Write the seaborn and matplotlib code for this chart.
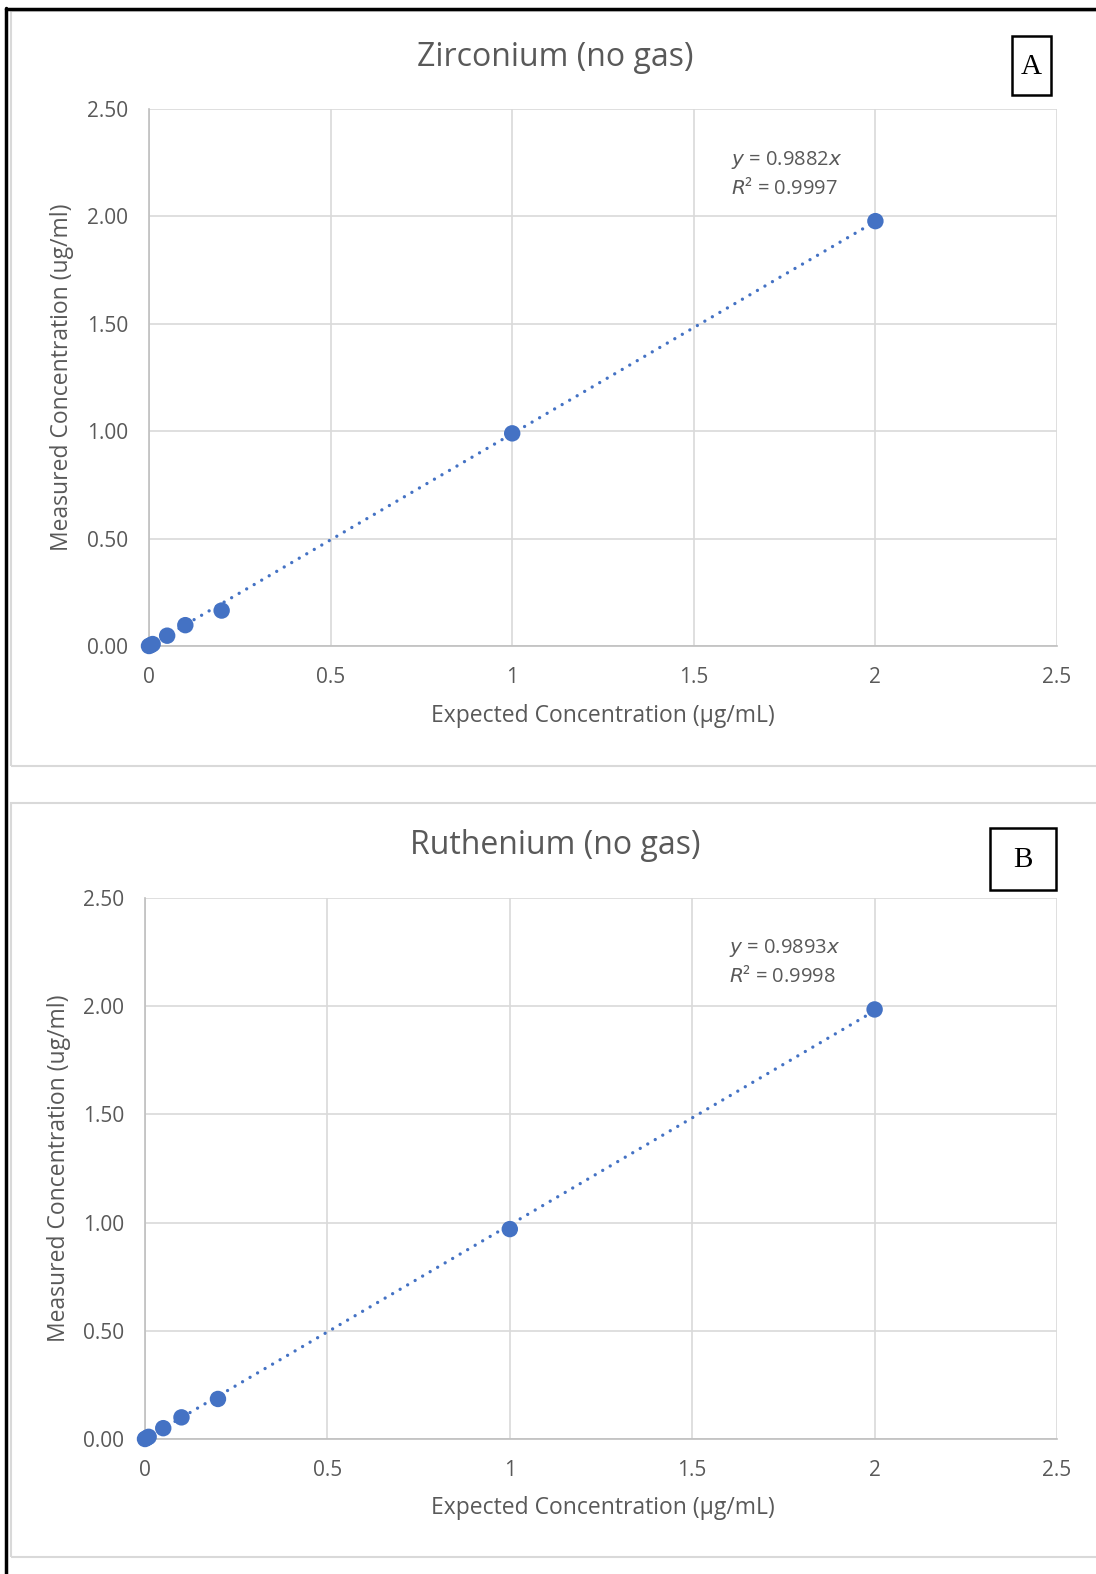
import numpy as np
import pandas as pd
import matplotlib
matplotlib.use("Agg")
import matplotlib.pyplot as plt
import seaborn as sns
from matplotlib.patches import Rectangle
from matplotlib.lines import Line2D

sns.set_theme(style="white")
plt.rcParams['font.family'] = ['Open Sans', 'DejaVu Sans']

# ---- data ----
zr_expected = [0, 0.005, 0.01, 0.05, 0.1, 0.2, 1, 2]
zr_measured = [0, 0.004, 0.009, 0.048, 0.097, 0.165, 0.990, 1.978]
zr_slope = 0.9882
zr_r2 = 0.9997

ru_expected = [0, 0.005, 0.01, 0.05, 0.1, 0.2, 1, 2]
ru_measured = [0, 0.005, 0.010, 0.050, 0.100, 0.185, 0.970, 1.985]
ru_slope = 0.9893
ru_r2 = 0.9998

x_ticks = [0, 0.5, 1, 1.5, 2, 2.5]
x_tick_labels = ["0", "0.5", "1", "1.5", "2", "2.5"]
y_ticks = [0, 0.5, 1.0, 1.5, 2.0, 2.5]
y_tick_labels = ["0.00", "0.50", "1.00", "1.50", "2.00", "2.50"]

W, H = 1096, 1574
fig = plt.figure(figsize=(W / 100, H / 100), dpi=100)

BLUE = "#4472C4"
TXT = "#595959"
GRID = "#D9D9D9"


def fx(px):
    return px / W


def fy(py):
    return 1 - py / H


# outer black border lines (left and top)
fig.add_artist(Line2D([fx(6), fx(6)], [fy(8), fy(H)], color="black", lw=2.5))
fig.add_artist(Line2D([fx(6), fx(W)], [fy(9), fy(9)], color="black", lw=2.5))
# grey chart frames
fig.add_artist(Rectangle((fx(11), fy(766)), fx(W + 5) - fx(11), fy(11) - fy(766),
                         fill=False, ec="#D9D9D9", lw=1.5))
fig.add_artist(Rectangle((fx(11), fy(1557)), fx(W + 5) - fx(11), fy(803) - fy(1557),
                         fill=False, ec="#D9D9D9", lw=1.5))


def make_panel(x0, x1, y_top, y_bot, xs, ys, slope, r2, title, title_y, ann_xy,
               letter, box, xlabel_y, ylabel_x):
    ax = fig.add_axes([fx(x0), fy(y_bot), fx(x1) - fx(x0), fy(y_top) - fy(y_bot)])
    df = pd.DataFrame({"expected": xs, "measured": ys})
    line_x = np.array([0, 2])
    ax.plot(line_x, slope * line_x, color=BLUE, lw=2.4,
            dashes=(0.01, 2.6), dash_capstyle="round", zorder=2)
    sns.scatterplot(data=df, x="expected", y="measured", ax=ax, color=BLUE,
                    s=140, edgecolor="none", zorder=3, clip_on=False)
    ax.set_xlim(0, 2.5)
    ax.set_ylim(0, 2.5)
    ax.set_xticks(x_ticks)
    ax.set_xticklabels(x_tick_labels)
    ax.set_yticks(y_ticks)
    ax.set_yticklabels(y_tick_labels)
    ax.tick_params(axis="both", length=0, labelsize=15, labelcolor=TXT)
    ax.tick_params(axis="x", pad=15)
    ax.tick_params(axis="y", pad=15)
    ax.grid(True, color=GRID, lw=1.2)
    for s in ["top", "right"]:
        ax.spines[s].set_visible(False)
    for s in ["left", "bottom"]:
        ax.spines[s].set_color("#BFBFBF")
        ax.spines[s].set_linewidth(1.2)
    ax.set_xlabel("")
    ax.set_ylabel("")
    fig.text(fx(603), fy(xlabel_y), "Expected Concentration (\u00b5g/mL)",
             ha="center", va="center", fontsize=16.5, color=TXT)
    fig.text(fx(ylabel_x), fy((y_top + y_bot) / 2), "Measured Concentration (ug/ml)",
             ha="center", va="center", fontsize=16.5, color=TXT, rotation=90)
    fig.text(fx(555), fy(title_y), title, ha="center", va="center",
             fontsize=23, color=TXT)
    fig.text(fx(ann_xy[0]), fy(ann_xy[1]),
             f"$\\it{{y}}$ = {slope:.4f}$\\it{{x}}$",
             ha="left", va="center", fontsize=14.5, color=TXT)
    fig.text(fx(ann_xy[0]), fy(ann_xy[1] + 29),
             f"$\\it{{R}}$\u00b2 = {r2:.4f}",
             ha="left", va="center", fontsize=14.5, color=TXT)
    bx0, by0, bx1, by1 = box
    fig.add_artist(Rectangle((fx(bx0), fy(by1)), fx(bx1) - fx(bx0), fy(by0) - fy(by1),
                             fill=False, ec="black", lw=1.8))
    fig.text(fx((bx0 + bx1) / 2), fy((by0 + by1) / 2 + 1), letter, ha="center", va="center",
             fontsize=21, color="black", family=["Liberation Serif"])
    return ax


make_panel(149, 1057, 109, 646, zr_expected, zr_measured, zr_slope, zr_r2,
           "Zirconium (no gas)", 57, (731, 160), "A", (1012, 36, 1051, 95), 716, 62)
make_panel(145, 1057, 898, 1439, ru_expected, ru_measured, ru_slope, ru_r2,
           "Ruthenium (no gas)", 846, (729, 948), "B", (990, 828, 1056, 890), 1508, 59)

fig.savefig("out.png", dpi=100)
